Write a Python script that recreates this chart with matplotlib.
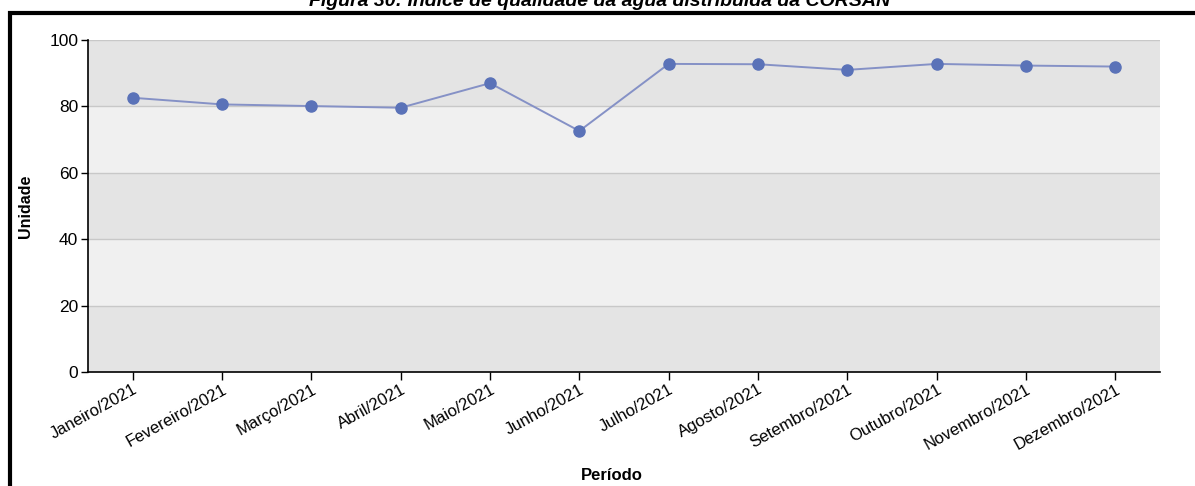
import numpy as np
import matplotlib.pyplot as plt
from matplotlib.patches import Rectangle

plt.rcParams['font.family'] = ['Liberation Sans', 'DejaVu Sans']

meses = ['Janeiro/2021', 'Fevereiro/2021', 'Março/2021', 'Abril/2021', 'Maio/2021',
         'Junho/2021', 'Julho/2021', 'Agosto/2021', 'Setembro/2021', 'Outubro/2021',
         'Novembro/2021', 'Dezembro/2021']
indice = [82.6, 80.6, 80.1, 79.6, 87.0, 72.6, 92.8, 92.7, 91.0, 92.8, 92.3, 92.0]
yticks = [0, 20, 40, 60, 80, 100]

W, H = 1195, 486
fig = plt.figure(figsize=(W / 100, H / 100), dpi=100)
ax = fig.add_axes([88 / W, 1 - 372 / H, (1160 - 88) / W, (372 - 40) / H])

# faixas alternadas no fundo
for i in range(len(yticks) - 1):
    cor = '#e4e4e4' if i % 2 == 0 else '#f0f0f0'
    ax.axhspan(yticks[i], yticks[i + 1], color=cor, zorder=0, lw=0)
for v in yticks[1:]:
    ax.axhline(v, color='#c8c8c8', lw=1, zorder=1)

x = np.arange(len(meses))
ax.plot(x, indice, color='#8591c6', lw=1.4, zorder=3)
ax.plot(x, indice, 'o', color='#5a72b8', ms=8, zorder=4)

ax.set_xlim(-0.5, len(meses) - 0.5)
ax.set_ylim(0, 100)
ax.set_yticks(yticks)
ax.set_xticks(x)
ax.set_xticklabels(meses, rotation=29, ha='right', rotation_mode='anchor', fontsize=12)
ax.tick_params(axis='y', labelsize=12.5, length=5, width=1, pad=2)
ax.tick_params(axis='x', length=6, width=1, pad=1)
for s in ['top', 'right']:
    ax.spines[s].set_visible(False)
for s in ['left', 'bottom']:
    ax.spines[s].set_linewidth(1.2)

ax.set_ylabel('Unidade', fontweight='bold', fontsize=11.5)
ax.yaxis.set_label_coords(-(88 - 33) / (1160 - 88), 0.5)
fig.text(612 / W, 1 - 475 / H, 'Período', fontweight='bold', fontsize=12,
         ha='center', va='center')

# titulo cortado no topo e moldura preta
fig.text(600 / W, 1 - 6 / H,
         'Figura 30: Índice de qualidade da água distribuída da CORSAN',
         fontweight='bold', fontstyle='italic', fontsize=14, ha='center', va='baseline')
fig.patches.append(Rectangle((10 / W, -0.1), 1.2, 1 - 13 / H + 0.1,
                             transform=fig.transFigure, fill=False,
                             ec='black', lw=3))

fig.savefig('out.png', dpi=100)
